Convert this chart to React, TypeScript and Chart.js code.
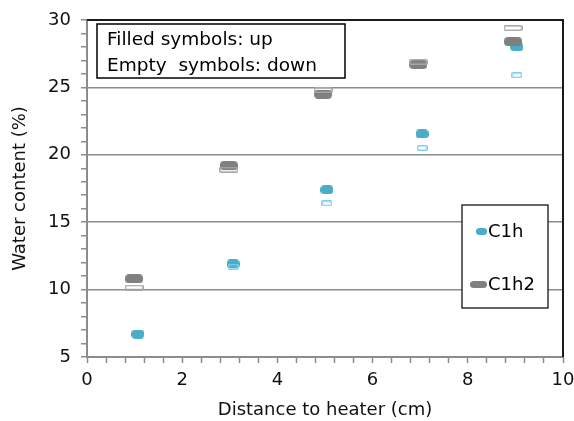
import React, { useEffect, useRef } from 'react';
import { Chart, registerables } from 'chart.js';
Chart.register(...registerables);

const xC1h = [1.07, 3.07, 5.04, 7.04, 9.03];
const upC1h = [6.7, 11.9, 17.4, 21.55, 28.0];
const xC1hDown = [3.07, 5.04, 7.04, 9.03];
const downC1h = [11.7, 16.4, 20.5, 25.9];
const xC1h2 = [0.99, 2.98, 4.96, 6.96, 8.95];
const upC1h2 = [10.8, 19.2, 24.5, 26.7, 28.4];
const downC1h2 = [10.15, 18.9, 24.8, 26.9, 29.4];
const seriesNames = ['C1h', 'C1h2'];
const noteLines = ['Filled symbols: up', 'Empty  symbols: down'];
const xTitle = 'Distance to heater (cm)';
const yTitle = 'Water content (%)';

const FONT = "'DejaVu Sans', sans-serif";
const BLUE = '#4BACC6';
const BLUE_LIGHT = '#7DCDEE';
const GRAY = '#808080';
const GRAY_LIGHT = '#A6A6A6';
const AXIS = '#8C8C8C';

function makeMarker(w: number, h: number, r: number, fill: string | null, stroke: string | null, lw: number) {
  const c = document.createElement('canvas');
  c.width = w;
  c.height = h;
  const ctx = c.getContext('2d')!;
  ctx.beginPath();
  const o = stroke ? lw / 2 : 0;
  ctx.roundRect(o, o, w - 2 * o, h - 2 * o, r);
  if (fill) { ctx.fillStyle = fill; ctx.fill(); }
  if (stroke) { ctx.strokeStyle = stroke; ctx.lineWidth = lw; ctx.stroke(); }
  return c;
}

const toPts = (xs: number[], ys: number[]) => xs.map((x, i) => ({ x, y: ys[i] }));

export default function App() {
  const ref = useRef<HTMLCanvasElement | null>(null);
  useEffect(() => {
    const mBlue = makeMarker(13, 9, 4, BLUE, null, 0);
    const mBlueE = makeMarker(11, 6, 1, null, BLUE_LIGHT, 1.5);
    const mGray = makeMarker(18, 9, 4, GRAY, null, 0);
    const mGrayE = makeMarker(19, 6, 1, null, GRAY_LIGHT, 1.5);

    const boxes = {
      id: 'boxes',
      beforeDatasetsDraw(chart: any) {
        const { ctx } = chart;
        ctx.save();
        ctx.fillStyle = '#fff';
        ctx.fillRect(97, 24, 248, 54);
        ctx.strokeStyle = '#000';
        ctx.lineWidth = 1.5;
        ctx.strokeRect(97, 24, 248, 54);
        ctx.fillStyle = '#000';
        ctx.font = `18.5px ${FONT}`;
        ctx.textBaseline = 'middle';
        ctx.textAlign = 'left';
        ctx.fillText(noteLines[0], 107, 40);
        ctx.fillText(noteLines[1], 107, 66);
        ctx.fillStyle = '#fff';
        ctx.fillRect(462, 205, 86, 103);
        ctx.strokeStyle = '#000';
        ctx.lineWidth = 1.2;
        ctx.strokeRect(462, 205, 86, 103);
        ctx.drawImage(mBlue, 476, 228, 11, 7);
        ctx.drawImage(mGray, 470, 281, 17, 7);
        ctx.fillStyle = '#000';
        ctx.font = `18px ${FONT}`;
        ctx.fillText(seriesNames[0], 488, 232);
        ctx.fillText(seriesNames[1], 488, 285);
        ctx.restore();
      },
      afterDraw(chart: any) {
        const { ctx, chartArea } = chart;
        ctx.save();
        ctx.strokeStyle = '#1a1a1a';
        ctx.lineWidth = 2;
        ctx.beginPath();
        ctx.moveTo(chartArea.left, chartArea.top);
        ctx.lineTo(chartArea.right, chartArea.top);
        ctx.lineTo(chartArea.right, chartArea.bottom);
        ctx.stroke();
        ctx.restore();
      },
    };

    const chart = new Chart(ref.current!, {
      type: 'scatter',
      data: {
        datasets: [
          { label: seriesNames[1] + ' down', data: toPts(xC1h2, downC1h2), pointStyle: mGrayE as any, pointRadius: 9 },
          { label: seriesNames[1], data: toPts(xC1h2, upC1h2), pointStyle: mGray as any, pointRadius: 9 },
          { label: seriesNames[0] + ' down', data: toPts(xC1hDown, downC1h), pointStyle: mBlueE as any, pointRadius: 6 },
          { label: seriesNames[0], data: toPts(xC1h, upC1h), pointStyle: mBlue as any, pointRadius: 6 },
        ],
      },
      options: {
        responsive: false,
        animation: false,
        events: [],
        layout: { padding: { top: 20, right: 11, left: 0, bottom: 0 } },
        plugins: { legend: { display: false }, tooltip: { enabled: false } },
        scales: {
          x: {
            type: 'linear',
            min: 0,
            max: 10,
            afterFit(s: any) { s.height = 64; s.paddingLeft = 0; s.paddingRight = 0; },
            border: { color: AXIS, width: 2 },
            grid: { color: 'rgba(0,0,0,0)', tickColor: AXIS, tickLength: 6, tickWidth: 1.5 },
            ticks: {
              stepSize: 0.4,
              autoSkip: false,
              maxRotation: 0,
              padding: 7,
              color: '#111',
              font: { family: FONT, size: 18 },
              callback: (v: any) => {
                const n = Number(v);
                return Math.abs(n / 2 - Math.round(n / 2)) < 1e-6 ? String(Math.round(n)) : '';
              },
            },
            title: { display: true, text: xTitle, color: '#111', font: { family: FONT, size: 18 }, padding: { top: 0, bottom: 0 } },
          },
          y: {
            type: 'linear',
            min: 5,
            max: 30,
            afterFit(s: any) { s.width = 87; s.paddingTop = 0; s.paddingBottom = 0; },
            border: { color: AXIS, width: 2 },
            grid: {
              color: (c: any) => {
                const v = c.tick ? c.tick.value : null;
                return v !== null && v % 5 === 0 && v > 5 && v < 30 ? AXIS : 'rgba(0,0,0,0)';
              },
              lineWidth: 1.5,
              tickColor: AXIS,
              tickLength: 6,
              tickWidth: 1.5,
            },
            ticks: {
              stepSize: 1,
              autoSkip: false,
              padding: 10,
              color: '#111',
              font: { family: FONT, size: 18 },
              callback: (v: any) => (Number(v) % 5 === 0 ? String(v) : ''),
            },
            title: { display: true, text: yTitle, color: '#111', font: { family: FONT, size: 18 }, padding: { top: 10, bottom: 0 } },
          },
        },
      },
      plugins: [boxes],
    });
    return () => chart.destroy();
  }, []);

  return (
    <div style={{ position: 'fixed', left: 0, top: 0, width: 574, height: 421, background: '#fff' }}>
      <canvas ref={ref} width={574} height={421} />
    </div>
  );
}
